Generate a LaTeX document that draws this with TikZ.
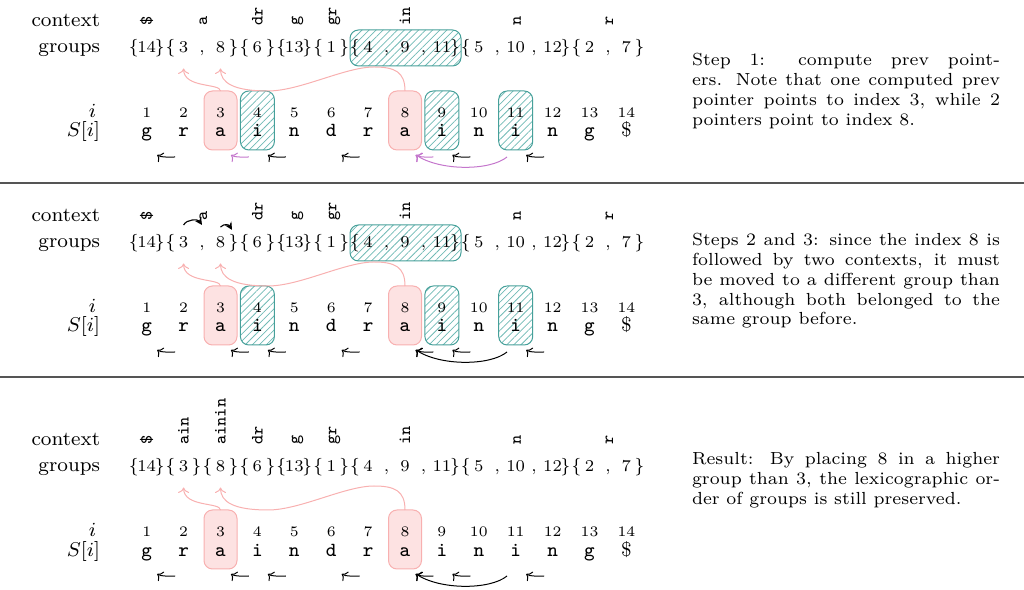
\documentclass[tikz,border=0pt]{standalone}
\usetikzlibrary{arrows.meta,patterns.meta}
\newlength{\pxu}
\setlength{\pxu}{0.4pt}
\definecolor{markfill}{RGB}{253,226,226}
\definecolor{markedge}{RGB}{248,176,176}
\definecolor{hatchline}{RGB}{112,186,181}
\definecolor{hatchedge}{RGB}{70,160,154}
\definecolor{ptrcol}{RGB}{196,118,204}
\definecolor{rulecol}{RGB}{85,85,85}
% x position of string column #1
\newcommand{\colx}[1]{(146.7+36.9*(#1-1))}

\tikzset{
  every node/.style={inner sep=0pt, outer sep=0pt},
  rowlabel/.style={anchor=base east, font=\fontsize{8}{9.5}\selectfont},
  ctxlabel/.style={rotate=90, anchor=west, font=\fontsize{6.9}{8}\selectfont\ttfamily,
                   text height=0.62em, text depth=0.21em},
  grpitem/.style={anchor=base, font=\fontsize{6.6}{8}\selectfont},
  idxnum/.style={anchor=base, font=\fontsize{5.8}{7}\selectfont},
  strchar/.style={anchor=base, font=\fontsize{8}{9.5}\selectfont\ttfamily},
  pinkbox/.style={draw=markedge, fill=markfill, line width=0.4pt, rounded corners=3.4pt,
                  minimum width=33\pxu, minimum height=59\pxu},
  hatchbox/.style={draw=hatchedge, line width=0.4pt, rounded corners=3.4pt,
                   pattern={Lines[angle=45,distance=2pt,line width=0.3pt]},
                   pattern color=hatchline},
  backptr/.style={draw=markedge, line width=0.4pt, -{To[length=2.2pt,width=4.4pt]}},
  prevptr/.style={line width=0.4pt, -{To[length=2pt,width=4.4pt]}},
  splitptr/.style={line width=0.45pt, -{Stealth[length=3pt,width=3pt]}},
  note/.style={anchor=base west, text width=308\pxu, align=justify,
               font=\fontsize{7}{7.88}\selectfont},
  divider/.style={draw=rulecol, line width=0.45pt},
}

\begin{document}
\begin{tikzpicture}[x=\pxu, y=-\pxu]
\useasboundingbox (0,0) rectangle (1024,590);

% dividers between the three stages
\draw[divider] (0,183) -- (1024,183);
\draw[divider] (0,377) -- (1024,377);

% highlighted positions (drawn first, text goes on top)
\foreach \p/\oy in {A/0,B/195,C/419}{
  \begin{scope}[shift={(0,\oy)}]
    \node[pinkbox] (\p b3) at ({\colx{3}},120.5) {};
    \node[pinkbox] (\p b8) at ({\colx{8}},120.5) {};
  \end{scope}
}
\foreach \p/\oy in {A/0,B/195}{
  \begin{scope}[shift={(0,\oy)}]
    \foreach \k in {4,9,11}
      \node[hatchbox, minimum width=34\pxu, minimum height=59\pxu] (\p h\k) at ({\colx{\k}},120.5) {};
    \node[hatchbox, minimum width=111\pxu, minimum height=36\pxu] (\p hg) at (405.5,48) {};
  \end{scope}
}

% rows shared by all three stages
\foreach \p/\oy in {A/0,B/195,C/419}{
  \begin{scope}[shift={(0,\oy)}]
    \node[rowlabel] (\p lc) at (100,26.5) {context};
    \node[rowlabel] (\p lg) at (100,53) {groups};
    \node[rowlabel] (\p li) at (96,117.5) {$i$};
    \node[rowlabel] (\p ls) at (100,137) {$S[i]$};
    \foreach \k/\ch in {1/g,2/r,3/a,4/i,5/n,6/d,7/r,8/a,9/i,10/n,11/i,12/n,13/g,14/{\textrm{\$}}}{
      \node[idxnum] (\p i\k) at ({\colx{\k}},118) {\k};
      \node[strchar] (\p s\k) at ({\colx{\k}},137) {\ch};
      \coordinate (\p u\k) at ({\colx{\k}},157);
    }
    \foreach \k/\v in {1/14,2/3,3/8,4/6,5/13,6/1,7/4,8/9,9/11,10/5,11/10,12/12,13/2,14/7}
      \node[grpitem] (\p g\k) at ({\colx{\k}},53) {\v};
    \foreach \k in {1,2,4,5,6,7,10,13}
      \node[grpitem] (\p ob\k) at ({\colx{\k}-13},53) {$\{$};
    \foreach \k in {1,3,4,5,6,9,12,14}
      \node[grpitem] (\p cb\k) at ({\colx{\k}+13},53) {$\}$};
    \foreach \k in {7,8,10,11,13}
      \node[grpitem] (\p cm\k) at ({\colx{\k}+18.45},53) {,};
    \foreach \n/\x/\t in {1/146.7/\$,4/257.4/dr,5/294.3/g,6/331.2/gr,8/405/in,11/515.7/n,13/608/r}
      \node[ctxlabel] (\p x\n) at (\x,25.5) {\t};
    % prev pointers
    \foreach \a/\b in {2/1,5/4,7/6,10/9,12/11}
      \draw[prevptr] ([xshift=-8.5\pxu]\p u\a) .. controls +(-7,0) and +(4,2.5) .. ([xshift=10.5\pxu,yshift=2\pxu]\p u\b);
  \end{scope}
}

% stages 1 and 2: 3 and 8 share one group
\foreach \p/\oy in {A/0,B/195}{
  \begin{scope}[shift={(0,\oy)}]
    \node[grpitem] (\p cm2) at ({\colx{2}+18.45},53) {,};
    \node[ctxlabel] (\p xa) at (202,25.5) {a};
  \end{scope}
}
% result: 3 and 8 in separate groups
\begin{scope}[shift={(0,419)}]
  \node[grpitem] (Ccb2) at ({\colx{2}+13},53) {$\}$};
  \node[grpitem] (Cob3) at ({\colx{3}-13},53) {$\{$};
  \node[ctxlabel] (Cx2) at ({\colx{2}},25.5) {ain};
  \node[ctxlabel] (Cx3) at ({\colx{3}},25.5) {ainin};
\end{scope}

% pointers back into the group row
\foreach \p/\oy in {A/0,B/195,C/419}{
  \begin{scope}[shift={(0,\oy)}]
    \draw[backptr] (\p b3.north) .. controls +(0,-8) and +(0,20) .. ([yshift=-15.5\pxu]\p g2.base);
    \draw[backptr] (\p b8.north) .. controls +(0,-19) and (395,67) .. (374,67)
      .. controls (345,67) and (300,91) .. (268,91)
      .. controls (235,91) and +(0,15) .. ([yshift=-15.5\pxu]\p g3.base);
  \end{scope}
}

% prev pointers landing on 3 and 8
\draw[prevptr, draw=ptrcol] ([xshift=-8.5\pxu]Au4) .. controls +(-7,0) and +(4,2.5) .. ([xshift=10.5\pxu,yshift=2\pxu]Au3);
\draw[prevptr, draw=ptrcol] ([xshift=-8.5\pxu]Au9) .. controls +(-7,0) and +(4,2.5) .. ([xshift=10.5\pxu,yshift=2\pxu]Au8);
\draw[prevptr, draw=ptrcol] ([xshift=-8.7\pxu]Au11) .. controls +(-17,14) and +(24,16) .. ([xshift=11\pxu,yshift=2\pxu]Au8);
\foreach \p in {B,C}{
  \draw[prevptr] ([xshift=-8.5\pxu]\p u4) .. controls +(-7,0) and +(4,2.5) .. ([xshift=10.5\pxu,yshift=2\pxu]\p u3);
  \draw[prevptr] ([xshift=-8.5\pxu]\p u9) .. controls +(-7,0) and +(4,2.5) .. ([xshift=10.5\pxu,yshift=2\pxu]\p u8);
  \draw[prevptr] ([xshift=-8.7\pxu]\p u11) .. controls +(-17,14) and +(24,16) .. ([xshift=11\pxu,yshift=2\pxu]\p u8);
}

% splitting the group {3,8}
\draw[splitptr] ([yshift=12\pxu]Bg2.north) .. controls +(3,-6) and +(-4,-6) .. ([yshift=-4.5\pxu]Bxa.west);
\draw[splitptr] ([yshift=10\pxu]Bg3.north) .. controls +(4,-4) and +(-3,-5) .. ([xshift=-1.5\pxu,yshift=5\pxu]Bcb3.north);

% explanations
\node[note] (nA) at (692,66) {Step 1: compute prev point-\linebreak ers. Note that one computed prev\linebreak pointer points to index 3, while 2\linebreak pointers point to index 8.};
\node[note] (nB) at (692,246) {Steps 2 and 3: since the index 8 is\linebreak followed by two contexts, it must\linebreak be moved to a different group than\linebreak 3, although both belonged to the\linebreak same group before.};
\node[note] (nC) at (692,465) {Result: By placing 8 in a higher\linebreak group than 3, the lexicographic or-\linebreak der of groups is still preserved.};
\end{tikzpicture}
\end{document}
